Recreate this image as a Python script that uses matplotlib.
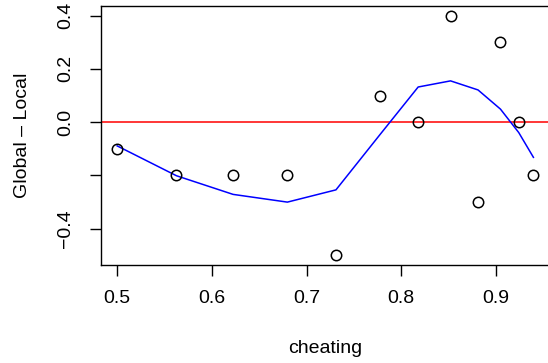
import matplotlib
matplotlib.use("Agg")
import matplotlib.pyplot as plt

plt.rcParams["font.family"] = ["Liberation Sans", "DejaVu Sans"]

cheating = [0.500, 0.5626, 0.6224, 0.6797, 0.731, 0.7774, 0.8178, 0.852, 0.881, 0.9047, 0.924, 0.9395]
diff = [-0.1, -0.2, -0.2, -0.2, -0.5, 0.1, 0.0, 0.4, -0.3, 0.3, 0.0, -0.2]
smooth = [-0.089, -0.201, -0.271, -0.300, -0.254, -0.047, 0.132, 0.155, 0.121, 0.049, -0.039, -0.132]

yticks = [-0.4, -0.2, 0.0, 0.2, 0.4]
ylabels = ["\u22120.4", "", "0.0", "0.2", "0.4"]
xticks = [0.5, 0.6, 0.7, 0.8, 0.9]

W, H = 548, 363
fig = plt.figure(figsize=(W / 100, H / 100), dpi=100)
ax = fig.add_axes([100.5 / W, (H - 265) / H, (550 - 100.5) / W, (265 - 6) / H])

ax.axhline(0, color="red", lw=1.1)
ax.plot(cheating, smooth, color="blue", lw=1.1)
ax.plot(cheating, diff, "o", mfc="none", mec="black", ms=7.5, mew=1.1)

ax.set_xlim(0.4824, 0.957)
ax.set_ylim(-0.536, 0.436)
ax.set_xticks(xticks)
ax.set_xticklabels([f"{v:.1f}" for v in xticks])
ax.set_yticks(yticks)
ax.set_yticklabels(ylabels, rotation=90, va="center")

ax.tick_params(length=8, width=1, labelsize=14, color="black")
ax.tick_params(axis="x", pad=10)
ax.tick_params(axis="y", pad=11)
for s in ax.spines.values():
    s.set_linewidth(1)

ax.set_xlabel("cheating", fontsize=14, labelpad=24)
ax.set_ylabel("Global \u2013 Local", fontsize=14, labelpad=19)

fig.savefig("out.png", dpi=100)
